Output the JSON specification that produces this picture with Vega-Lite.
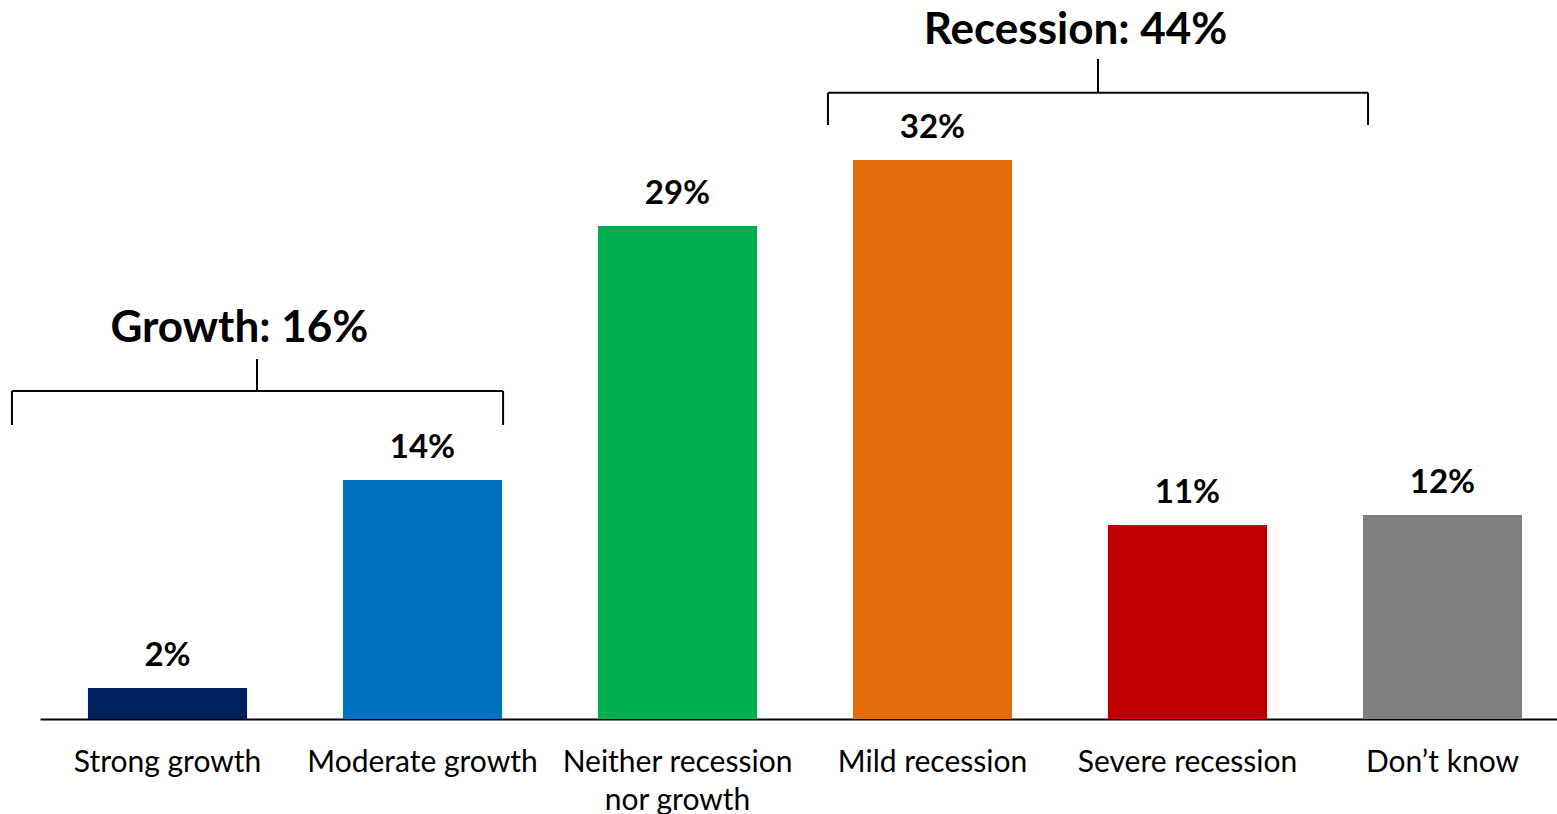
{
  "$schema": "https://vega.github.io/schema/vega-lite/v6.json",
  "autosize": "none",
  "width": 1530,
  "height": 719,
  "padding": {"left": 40, "top": 0, "right": 0, "bottom": 95},
  "background": "white",
  "config": {"view": {"stroke": null}, "font": "Lato"},
  "datasets": {
    "bars": [
      {"category": "Strong growth", "value": 1.8, "label": "2%"},
      {"category": "Moderate growth", "value": 13.9, "label": "14%"},
      {"category": "Neither recession nor growth", "value": 28.66, "label": "29%"},
      {"category": "Mild recession", "value": 32.5, "label": "32%"},
      {"category": "Severe recession", "value": 11.28, "label": "11%"},
      {"category": "Don’t know", "value": 11.86, "label": "12%"}
    ],
    "brackets": [
      {"group": "Growth", "x": -0.11, "x2": 1.816, "y": 19.07, "y2": 19.07},
      {"group": "Growth", "x": -0.11, "x2": -0.11, "y": 19.07, "y2": 17.09},
      {"group": "Growth", "x": 1.816, "x2": 1.816, "y": 19.07, "y2": 17.09},
      {"group": "Growth", "x": 0.851, "x2": 0.851, "y": 19.07, "y2": 20.93},
      {"group": "Recession", "x": 3.09, "x2": 5.208, "y": 36.41, "y2": 36.41},
      {"group": "Recession", "x": 3.09, "x2": 3.09, "y": 36.41, "y2": 34.53},
      {"group": "Recession", "x": 5.208, "x2": 5.208, "y": 36.41, "y2": 34.53},
      {"group": "Recession", "x": 4.149, "x2": 4.149, "y": 36.41, "y2": 38.37}
    ],
    "titles": [
      {"text": "Growth: 16%", "x": 0.782, "y": 21.92},
      {"text": "Recession: 44%", "x": 4.061, "y": 39.24}
    ]
  },
  "layer": [
    {
      "data": {"name": "bars"},
      "encoding": {
        "x": {
          "field": "category",
          "type": "nominal",
          "sort": null,
          "scale": {"paddingInner": 0.376, "paddingOuter": 0.188},
          "axis": {
            "title": null,
            "labelAngle": 0,
            "ticks": false,
            "domainColor": "black",
            "domainWidth": 2,
            "labelFont": "Lato",
            "labelFontSize": 30,
            "labelColor": "black",
            "labelBaseline": "alphabetic",
            "labelPadding": 52,
            "labelLineHeight": 38,
            "labelLimit": 400,
            "labelExpr": "datum.value == 'Neither recession nor growth' ? ['Neither recession', 'nor growth'] : datum.value"
          }
        },
        "y": {
          "field": "value",
          "type": "quantitative",
          "scale": {"domain": [0, 41.8], "nice": false},
          "axis": null
        }
      },
      "layer": [
        {
          "mark": {"type": "bar"},
          "encoding": {
            "color": {
              "field": "category",
              "type": "nominal",
              "sort": null,
              "scale": {
                "domain": ["Strong growth", "Moderate growth", "Neither recession nor growth", "Mild recession", "Severe recession", "Don’t know"],
                "range": ["#002060", "#0070C0", "#00B050", "#E36C0A", "#C00000", "#808080"]
              },
              "legend": null
            }
          }
        },
        {
          "mark": {"type": "text", "font": "Lato", "fontWeight": "bold", "fontSize": 33, "baseline": "alphabetic", "dy": -22, "color": "black"},
          "encoding": {
            "text": {"field": "label"}
          }
        }
      ]
    },
    {
      "data": {"name": "brackets"},
      "mark": {"type": "rule", "color": "black", "strokeWidth": 2, "clip": false},
      "encoding": {
        "x": {"field": "x", "type": "quantitative", "scale": {"domain": [0, 6], "nice": false, "zero": false}, "axis": null},
        "x2": {"field": "x2"},
        "y": {"field": "y", "type": "quantitative"},
        "y2": {"field": "y2"}
      }
    },
    {
      "data": {"name": "titles"},
      "mark": {"type": "text", "font": "Lato", "fontWeight": "bold", "fontSize": 44, "baseline": "alphabetic", "align": "center", "color": "black"},
      "encoding": {
        "x": {"field": "x", "type": "quantitative", "scale": {"domain": [0, 6], "nice": false, "zero": false}, "axis": null},
        "y": {"field": "y", "type": "quantitative"},
        "text": {"field": "text"}
      }
    }
  ],
  "resolve": {"scale": {"x": "independent"}}
}
